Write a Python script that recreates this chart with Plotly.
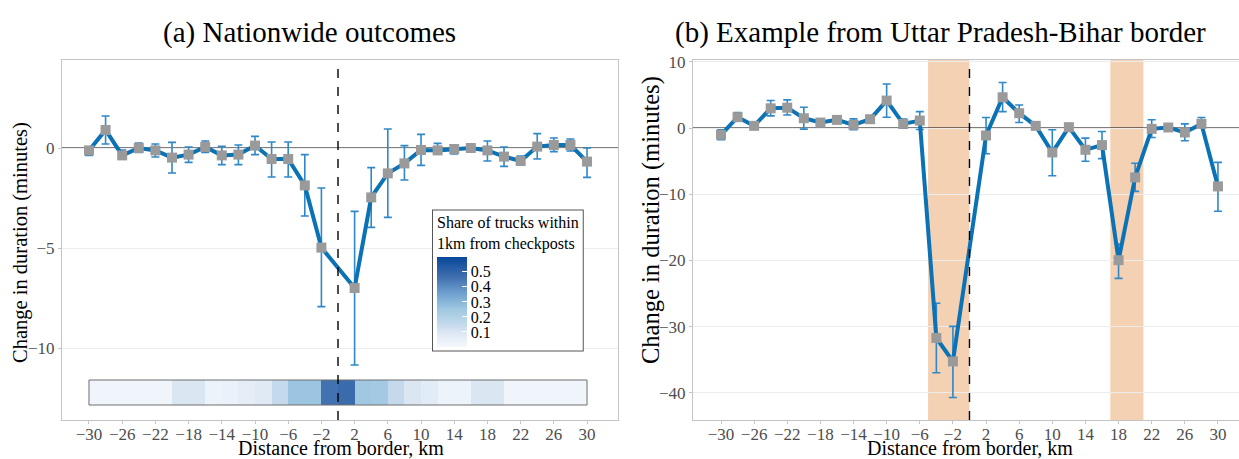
import plotly.graph_objects as go

# ---------------- data ----------------
dist = [-30, -28, -26, -24, -22, -20, -18, -16, -14, -12, -10, -8, -6, -4, -2,
        2, 4, 6, 8, 10, 12, 14, 16, 18, 20, 22, 24, 26, 28, 30]

# (a) nationwide
a_est = [-0.12, 0.9, -0.37, 0.0, -0.12, -0.48, -0.33, 0.05, -0.37, -0.33, 0.12, -0.55, -0.55, -1.87, -4.98,
         -7.0, -2.47, -1.27, -0.77, -0.1, -0.12, -0.05, 0.0, -0.12, -0.43, -0.65, 0.07, 0.15, 0.15, -0.68]
a_hi = [0.05, 1.6, -0.1, 0.25, 0.2, 0.28, 0.05, 0.35, 0.08, 0.15, 0.58, 0.3, 0.3, -0.33, -2.0,
        -3.17, -0.98, 0.95, 0.12, 0.68, 0.23, 0.15, 0.08, 0.35, 0.05, -0.4, 0.72, 0.5, 0.45, 0.0]
a_lo = [-0.37, 0.2, -0.55, -0.22, -0.45, -1.25, -0.72, -0.22, -0.83, -0.83, -0.33, -1.45, -1.45, -3.4, -7.93,
        -10.85, -3.97, -3.47, -1.6, -0.87, -0.27, -0.3, -0.08, -0.65, -0.92, -0.85, -0.55, -0.18, -0.15, -1.47]

# share of trucks within 1km from checkposts, bins of 2 km from -30 to 30
share_edges = list(range(-30, 31, 2))
share = [0.02, 0.02, 0.02, 0.02, 0.02, 0.10, 0.10, 0.03, 0.04, 0.06, 0.08, 0.15, 0.26, 0.26, 0.46,
         0.48, 0.25, 0.24, 0.15, 0.10, 0.07, 0.03, 0.03, 0.10, 0.10, 0.02, 0.02, 0.02, 0.02, 0.02]

# (b) Uttar Pradesh - Bihar
b_est = [-1.0, 1.66, 0.35, 3.0, 3.1, 1.5, 0.85, 1.25, 0.5, 1.35, 4.17, 0.65, 1.15, -31.7, -35.25,
         -1.1, 4.67, 2.26, 0.35, -3.67, 0.15, -3.27, -2.56, -19.95, -7.44, -0.1, 0.1, -0.65, 0.65, -8.8]
b_hi = [-0.25, 2.36, 0.45, 4.17, 4.27, 3.17, 0.95, 1.35, 1.4, 1.45, 6.68, 1.36, 2.5, -26.45, -29.95,
        1.6, 6.9, 3.5, 0.45, -0.25, 0.25, -1.5, -0.5, -17.5, -5.3, 1.26, 0.2, 0.65, 1.6, -5.17]
b_lo = [-1.75, 1.16, 0.25, 1.86, 2.0, -0.15, 0.75, 1.15, -0.25, 1.25, 1.66, 0.0, -0.2, -36.95, -40.7,
        -3.87, 2.5, 0.85, 0.25, -7.2, 0.05, -5.0, -4.6, -22.7, -9.55, -1.4, 0.0, -1.9, 0.15, -12.56]

shade_bands = [(-5, 0), (17, 21)]

xticks = list(range(-30, 31, 4))
a_yticks = [0, -5, -10]
b_yticks = [10, 0, -10, -20, -30, -40]

title_a = "(a) Nationwide outcomes"
title_b = "(b) Example from Uttar Pradesh-Bihar border"
x_title = "Distance from border, km"
y_title = "Change in duration (minutes)"

# ---------------- style ----------------
FONT = "Liberation Serif"
LINE_BLUE = "#0b72b5"
ERR_BLUE = "#2f88c8"
MARK_GREY = "#9a9a9a"
TICK_GREY = "#4d4d4d"
FRAME = "#c4c4c4"
GRID = "#ececec"
STRIP_Y = (-12.85, -11.6)
W, H = 1239, 459

fig = go.Figure()

def err(est, hi, lo):
    return dict(type="data", symmetric=False,
                array=[h - e for h, e in zip(hi, est)],
                arrayminus=[e - l for e, l in zip(est, lo)],
                color=ERR_BLUE, thickness=1.6, width=4)

# heatmap strip (a)
fig.add_trace(go.Heatmap(
    x=share_edges, y=list(STRIP_Y), z=[share],
    xaxis="x", yaxis="y", zmin=0, zmax=0.6,
    colorscale=[[0, "#f5f8fd"], [0.17, "#dae6f3"], [0.25, "#c4daec"], [0.42, "#9fc8e1"],
                [0.6, "#6d9fcf"], [0.78, "#3f6fae"], [1, "#08479a"]],
    hoverinfo="skip", xgap=0, ygap=0,
    colorbar=dict(
        title=dict(text="Share of trucks within<br>1km from checkposts", side="top",
                   font=dict(family=FONT, size=16, color="black")),
        x=433 / W, xanchor="left", y=1 - 350 / H, yanchor="bottom",
        lenmode="pixels", len=140, thickness=30, thicknessmode="pixels",
        xpad=4, ypad=3,
        tickvals=[0.1, 0.2, 0.3, 0.4, 0.5], ticks="inside", tickcolor="white", ticklen=5,
        tickfont=dict(family=FONT, size=16, color="black"),
        outlinewidth=0, bordercolor="#555555", borderwidth=1, bgcolor="white",
    ),
))

fig.add_trace(go.Scatter(
    x=dist, y=a_est, xaxis="x", yaxis="y", mode="lines+markers",
    line=dict(color=LINE_BLUE, width=4),
    marker=dict(symbol="square", size=10, color=MARK_GREY),
    error_y=err(a_est, a_hi, a_lo), showlegend=False,
))

fig.add_trace(go.Scatter(
    x=dist, y=b_est, xaxis="x2", yaxis="y2", mode="lines+markers",
    line=dict(color=LINE_BLUE, width=4),
    marker=dict(symbol="square", size=10, color=MARK_GREY),
    error_y=err(b_est, b_hi, b_lo), showlegend=False,
))

shapes = []
# strip outline
shapes.append(dict(type="rect", xref="x", yref="y", x0=share_edges[0], x1=share_edges[-1],
                   y0=STRIP_Y[0], y1=STRIP_Y[1], line=dict(color="#6f6f6f", width=1)))
for x0, x1 in shade_bands:
    shapes.append(dict(type="rect", xref="x2", yref="y2 domain", x0=x0, x1=x1, y0=0, y1=1,
                       fillcolor="rgba(232,152,88,0.45)", line=dict(width=0), layer="below"))
for xa, ya in [("x", "y"), ("x2", "y2")]:
    shapes.append(dict(type="line", xref=f"{xa} domain", yref=ya, x0=0, x1=1, y0=0, y1=0,
                       line=dict(color="black", width=1.2), layer="below"))
    shapes.append(dict(type="line", xref=xa, yref=f"{ya} domain", x0=0, x1=0, y0=0, y1=1,
                       line=dict(color="black", width=1.4, dash="dash")))

axis_common = dict(showgrid=False, zeroline=False, showline=True, linecolor=FRAME, linewidth=1.2,
                   mirror=True, ticks="outside", ticklen=3, tickcolor=FRAME, automargin=False,
                   tickfont=dict(family=FONT, size=17, color=TICK_GREY))

yb = 1 - 420 / H
yt = 1 - 60 / H


def ann(text, px, py, size, angle=0, yanchor="middle"):
    return dict(text=text, x=px / W, y=1 - py / H, xref="paper", yref="paper",
                xanchor="center", yanchor=yanchor, textangle=angle, showarrow=False,
                font=dict(family=FONT, size=size, color="black"))


fig.update_layout(
    width=W, height=H, margin=dict(l=0, r=0, t=0, b=0, autoexpand=False),
    paper_bgcolor="white", plot_bgcolor="white", showlegend=False,
    font=dict(family=FONT, color="black"),
    xaxis=dict(axis_common, domain=[62 / W, 618 / W], range=[-33.25, 33.73],
               tickvals=xticks, anchor="y", ticklabelstandoff=-5),
    yaxis=dict(axis_common, domain=[yb, yt], range=[-13.6, 4.4], tickvals=a_yticks,
               showgrid=True, gridcolor=GRID, anchor="x"),
    xaxis2=dict(axis_common, domain=[693 / W, 1.0], range=[-33.38, 32.54],
                tickvals=xticks, anchor="y2", ticklabelstandoff=-5),
    yaxis2=dict(axis_common, domain=[yb, yt], range=[-44.1, 10.3], tickvals=b_yticks,
                showgrid=True, gridcolor=GRID, anchor="x2"),
    shapes=shapes,
    annotations=[
        ann(title_a, 309, 33, 29),
        ann(title_b, 940, 33, 29),
        ann(x_title, 341, 461, 20, yanchor="bottom"),
        ann(x_title, 970, 461, 20, yanchor="bottom"),
        ann(y_title, 20, 243, 20.5, -90),
        ann(y_title, 651, 220, 24.5, -90),
    ],
)

fig.write_html("out.html", config={"displayModeBar": False},
               post_script="document.body.style.margin='0';")
